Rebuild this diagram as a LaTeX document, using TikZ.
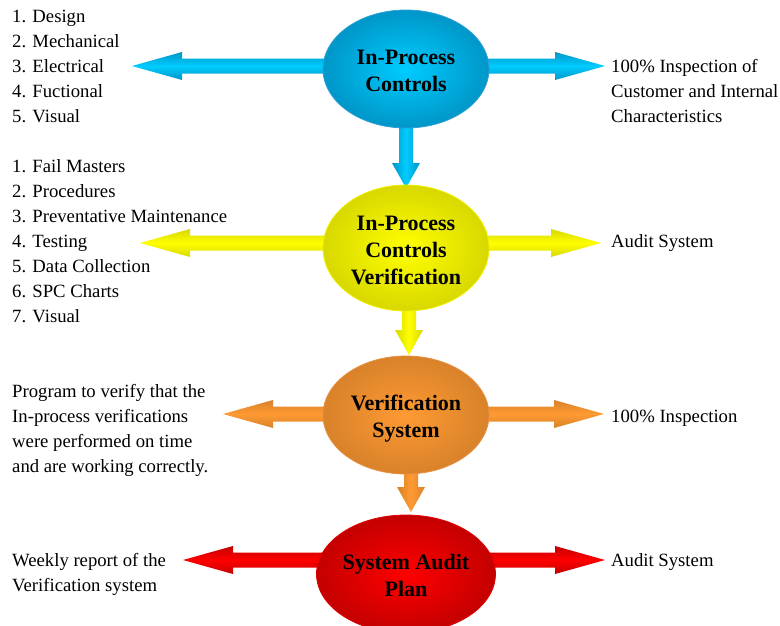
\documentclass[tikz,border=0pt]{standalone}
\usepackage{fontspec}
\setmainfont{Liberation Serif}
\usetikzlibrary{shapes.geometric,backgrounds,calc}
\definecolor{blueOut}{HTML}{0096C8}
\definecolor{blueIn}{HTML}{00CCFF}
\definecolor{blueLine}{HTML}{2E9FD8}
\definecolor{yelOut}{HTML}{D8D800}
\definecolor{yelIn}{HTML}{FFFF00}
\definecolor{yelLine}{HTML}{F0F000}
\definecolor{orOut}{HTML}{D8822A}
\definecolor{orIn}{HTML}{FF9A33}
\definecolor{orLine}{HTML}{E89040}
\definecolor{redOut}{HTML}{C40000}
\definecolor{redIn}{HTML}{FF0000}
\definecolor{redLine}{HTML}{E00000}
\newcommand{\harrow}[3]{%
  \path[top color=#3Out, bottom color=#3Out, middle color=#3In]
    let \p1=(#1), \p2=(#2), \p3=($(#2)!50pt!(#1)$) in
    (\x1,\y1+7.5pt) -- (\x3,\y1+7.5pt) -- (\x3,\y1+14pt) -- (\x2,\y2)
    -- (\x3,\y1-14pt) -- (\x3,\y1-7.5pt) -- (\x1,\y1-7.5pt) -- cycle;}
\newcommand{\varrow}[3]{%
  \path[left color=#3Out, right color=#3Out, middle color=#3In]
    let \p1=(#1), \p2=(#2), \p3=($(#2)!25pt!(#1)$) in
    (\x1-7pt,\y1) -- (\x1-7pt,\y3) -- (\x1-14pt,\y3) -- (\x2,\y2)
    -- (\x1+14pt,\y3) -- (\x1+7pt,\y3) -- (\x1+7pt,\y1) -- cycle;}
\newcommand{\topstrut}{\rule{0pt}{27pt}}
\begin{document}
\begin{tikzpicture}[x=1pt,y=-1pt,
  oval/.style={ellipse, inner sep=0pt, minimum width=166pt, minimum height=118pt,
    align=center, font=\fontsize{22}{27}\selectfont\bfseries, line width=0.8pt},
  txt/.style={anchor=west, inner sep=0pt, align=left, font=\fontsize{18.7}{25}\selectfont}]
\useasboundingbox (0,0) rectangle (780,625);
% ellipses
\node[oval, inner color=blueIn, outer color=blueOut, draw=blueLine] (e1) at (406,69) {\topstrut In-Process\\Controls\strut};
\node[oval, inner color=yelIn, outer color=yelOut, draw=yelLine] (e2) at (406,248) {\topstrut In-Process\\Controls\\Verification\strut};
\node[oval, inner color=orIn, outer color=orOut, draw=orLine] (e3) at (406,415) {\topstrut Verification\\System\strut};
\node[oval, inner color=redIn, outer color=redOut, draw=redLine] (e4) at (406,574) {\topstrut System Audit\\Plan\strut};
% texts
\node[txt] (t1) at (12,67) {\strut 1. Design\\2. Mechanical\\3. Electrical\\4. Fuctional\\5. Visual\strut};
\node[txt] (t2) at (12,242) {\strut 1. Fail Masters\\2. Procedures\\3. Preventative Maintenance\\4. Testing\\5. Data Collection\\6. SPC Charts\\7. Visual\strut};
\node[txt] (t3) at (12,429.5) {\strut Program to verify that the\\In-process verifications\\were performed on time\\and are working correctly.\strut};
\node[txt] (t4) at (12,573.5) {\strut Weekly report of the\\Verification system\strut};
\node[txt] (r1) at (611,92) {\strut 100\% Inspection of\\Customer and Internal\\Characteristics\strut};
\node[txt] (r2) at (611,242) {\strut Audit System};
\node[txt] (r3) at (611,417) {\strut 100\% Inspection};
\node[txt] (r4) at (611,561) {\strut Audit System};
% arrow tips
\coordinate (e1l) at (132,66);
\coordinate (e1r) at (605,66);
\coordinate (e2l) at (140,243);
\coordinate (e2r) at (601,243);
\coordinate (e3l) at (223,414);
\coordinate (e3r) at (604,414);
\coordinate (e4l) at (183,560);
\coordinate (e4r) at (605,560);
\coordinate (v1) at (406,188);
\coordinate (v2) at (409,355);
\coordinate (v3) at (411,512);
\begin{scope}[on background layer]
\harrow{e1 |- e1l}{e1l}{blue}
\harrow{e1 |- e1r}{e1r}{blue}
\varrow{v1 |- e1}{v1}{blue}
\harrow{e2 |- e2l}{e2l}{yel}
\harrow{e2 |- e2r}{e2r}{yel}
\varrow{v2 |- e2}{v2}{yel}
\harrow{e3 |- e3l}{e3l}{or}
\harrow{e3 |- e3r}{e3r}{or}
\varrow{v3 |- e3}{v3}{or}
\harrow{e4 |- e4l}{e4l}{red}
\harrow{e4 |- e4r}{e4r}{red}
\end{scope}
\end{tikzpicture}
\end{document}
